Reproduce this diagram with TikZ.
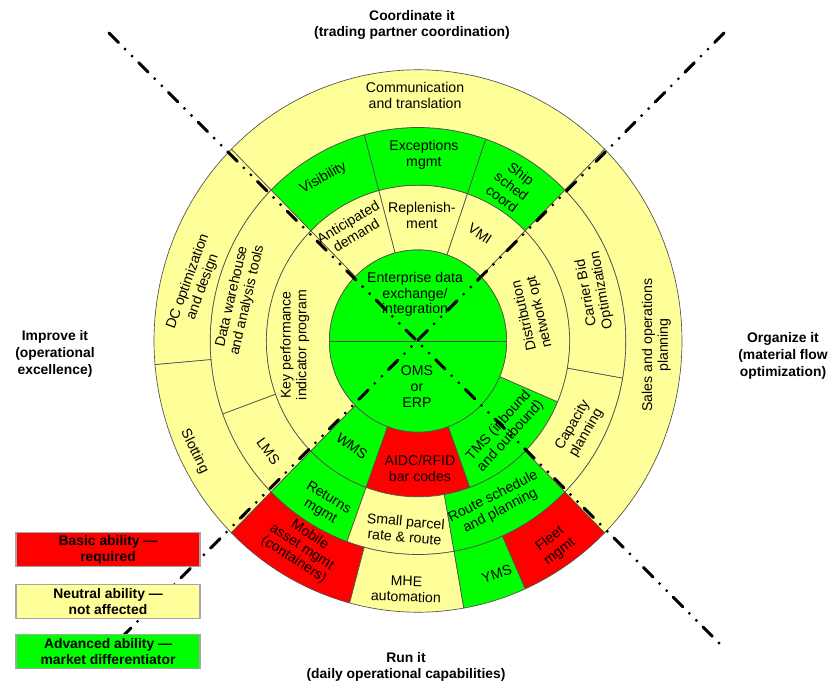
\documentclass[tikz,border=0pt]{standalone}
\usepackage{fontspec}
\setmainfont{Liberation Sans}
\usepackage{tikz}

\definecolor{neutral}{HTML}{FFFF99}
\definecolor{advanced}{HTML}{00FF00}
\definecolor{basic}{HTML}{FF0000}
\definecolor{edge}{HTML}{505050}

\begin{document}
\begin{tikzpicture}[x=0.75pt, y=0.75pt,
        font=\fontsize{10.6}{11.8}\selectfont,
        seg/.style={draw=edge, line width=0.5pt},
        lbl/.style={align=center, inner sep=1pt},
        title/.style={align=center, font=\fontsize{10.4}{12.5}\selectfont\bfseries},
        key/.style={draw=gray!70, line width=0.8pt, minimum width=138pt,
            minimum height=26pt, align=center, inner sep=1pt,
            font=\fontsize{10.4}{12}\selectfont\bfseries},
        axis/.style={line width=2.3pt, line cap=round,
            dash pattern=on 10pt off 7pt on 0pt off 7.5pt on 0pt off 7pt}
        ]
            \useasboundingbox (-418,-344) rectangle (410,341);

            \begin{scope}[xscale=0.985, yscale=1.012]
            % Ringe: inner radius / outer radius / start / end / colour
            \foreach \ri/\ro/\a/\b/\c in {
                90/154/45/71/neutral, 90/154/71/105/neutral, 90/154/105/135/neutral,
                90/154/135/225/neutral, 90/154/225/250/advanced, 90/154/250/290/basic,
                90/154/290/337/advanced, 90/154/337/405/neutral,
                154/211/45/71/advanced, 154/211/71/105/advanced, 154/211/105/135/advanced,
                154/211/135/200/neutral, 154/211/200/225/neutral, 154/211/225/250/advanced,
                154/211/250/280/neutral, 154/211/280/315/advanced, 154/211/315/350/neutral,
                154/211/350/405/neutral,
                211/268/45/135/neutral, 211/268/135/185/neutral, 211/268/185/225/neutral,
                211/268/225/255/basic, 211/268/255/280/neutral, 211/268/280/294/advanced,
                211/268/294/315/basic, 211/268/315/405/neutral}
                \filldraw[seg, fill=\c] (\a:\ri) arc[start angle=\a, end angle=\b, radius=\ri]
                    -- (\b:\ro) arc[start angle=\b, end angle=\a, radius=\ro] -- cycle;

            % Kern
            \filldraw[seg, fill=advanced] (0,0) circle (90);
            \draw[seg] (180:90) -- (0:90);

            % Beschriftung
            \node[lbl] (ent) at (-3,46) {Enterprise data\\exchange/\\integration};
            \node[lbl] (oms) at (-1,-45) {OMS\\or\\ERP};

            \node[lbl, rotate=31] (ant) at (-67,111) {Anticipated\\demand};
            \node[lbl] (rep) at (4,124) {Replenish-\\ment};
            \node[lbl, rotate=-34] (vmi) at (63,106) {VMI};
            \node[lbl, rotate=90] (kpi) at (-125,-4) {Key performance\\indicator program};
            \node[lbl, rotate=103] (dist) at (116,27) {Distribution\\network opt};
            \node[lbl, rotate=-36] (wms) at (-67,-104) {WMS};
            \node[lbl] (aidc) at (2,-126) {AIDC/RFID\\bar codes};
            \node[lbl, rotate=48] (tms) at (88,-89) {TMS (inbound\\and outbound)};

            \node[lbl, rotate=29] (vis) at (-96,161) {Visibility};
            \node[lbl] (exc) at (6,184) {Exceptions\\mgmt};
            \node[lbl, rotate=-37] (ship) at (95,153) {Ship\\sched\\coord};
            \node[lbl, rotate=77] (dw) at (-181,42) {Data warehouse\\and analysis tools};
            \node[lbl, rotate=-54] (lms) at (-152,-109) {LMS};
            \node[lbl, rotate=-31] (ret) at (-95,-162) {Returns\\mgmt};
            \node[lbl, rotate=-5] (parcel) at (-13,-186) {Small parcel\\rate \& route};
            \node[lbl, rotate=27] (route) at (80,-161) {Route schedule\\and planning};
            \node[lbl, rotate=60] (cap) at (164,-87) {Capacity\\planning};
            \node[lbl, rotate=100] (carrier) at (179,49) {Carrier Bid\\Optimization};

            \node[lbl] (comm) at (-3,243) {Communication\\and translation};
            \node[lbl, rotate=70] (dc) at (-226,56) {DC optimization\\and design};
            \node[lbl, rotate=-64] (slot) at (-227,-109) {Slotting};
            \node[lbl, rotate=-33, font=\fontsize{10.6}{11}\selectfont] (mob) at (-118,-204)
                {Mobile\\asset mgmt\\(containers)};
            \node[lbl, rotate=-2] (mhe) at (-12,-245) {MHE\\automation};
            \node[lbl, rotate=18] (yms) at (80,-230) {YMS};
            \node[lbl, rotate=38] (fleet) at (139,-202) {Fleet\\mgmt};
            \node[lbl, rotate=90] (sop) at (242,-4) {Sales and operations\\planning};
            \end{scope}

            % Achsen
            \coordinate (nw) at (-309,308);
            \coordinate (se) at (306,-307);
            \coordinate (ne) at (306,308);
            \coordinate (sw) at (-299,-299);
            \draw[axis] (nw) -- (se);
            \draw[axis] (ne) -- (sw);

            % Quadranten
            \node[title] (coord) at (-6,316) {Coordinate it\\(trading partner coordination)};
            \node[title] (improve) at (-363,-13) {Improve it\\(operational\\excellence)};
            \node[title] (organize) at (365,-15) {Organize it\\(material flow\\optimization)};
            \node[title] (run) at (-12,-326) {Run it\\(daily operational capabilities)};

            % Legende
            \node[key, fill=basic] (kb) at (-310,-208.5) {Basic ability ---\\required};
            \node[key, fill=neutral] (kn) at (-310,-260.5) {Neutral ability ---\\not affected};
            \node[key, fill=advanced] (ka) at (-310,-310.5) {Advanced ability ---\\market differentiator};

        \end{tikzpicture}
\end{document}
